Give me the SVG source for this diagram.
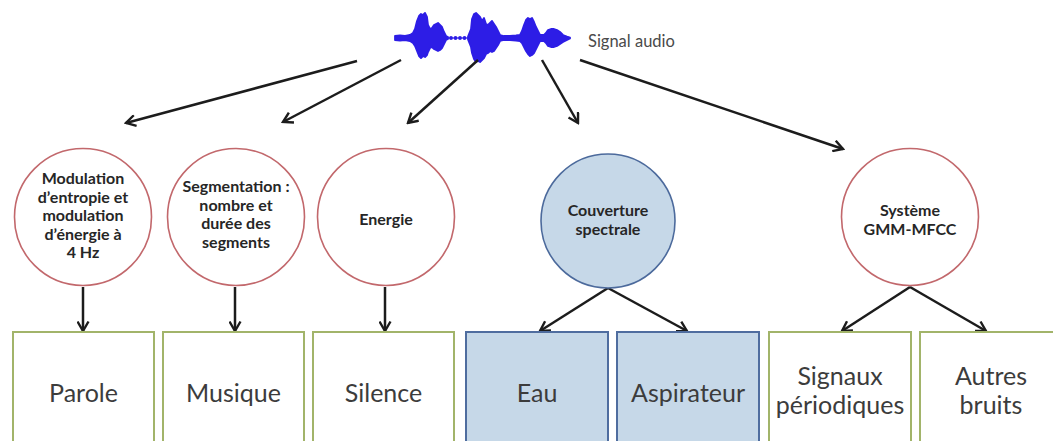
<svg xmlns="http://www.w3.org/2000/svg" width="1053" height="441" viewBox="0 0 1053 441">
  <defs>
    <style>
      .circ { fill: #ffffff; stroke: #c2686c; stroke-width: 1.6; }
      .circb { fill: #c6d8e8; stroke: #4c6a9c; stroke-width: 1.6; }
      .box { fill: #ffffff; stroke: #a2b46a; stroke-width: 2; }
      .boxb { fill: #c6d8e8; stroke: #4f6d9f; stroke-width: 2; }
      .ct { font-family: Lato, "Liberation Sans", sans-serif; font-weight: bold; font-size: 16px; fill: #262626; text-anchor: middle; }
      .bt { font-family: Lato, "Liberation Sans", sans-serif; font-size: 25px; fill: #3c3c3c; text-anchor: middle; }
      .lbl { font-family: Lato, "Liberation Sans", sans-serif; font-size: 16.5px; fill: #4a4a4a; }
      .conn { fill: none; stroke: #1c1c1c; stroke-width: 2.5; }
      .wave { fill: #2d1de6; stroke: #2d1de6; stroke-width: 1.8; stroke-linejoin: round; }
    </style>
    <marker id="arr" viewBox="0 0 13 13" refX="11" refY="6.5" markerWidth="13" markerHeight="13" markerUnits="userSpaceOnUse" orient="auto">
      <path d="M1.5,1 L11,6.5 L1.5,12" fill="none" stroke="#1c1c1c" stroke-width="2.4"/>
    </marker>
  </defs>

  <g id="signal">
    <path class="wave" d="M395,36 L400,35.5 L405,36 L410,35 L413,33 L415,29 L417,21 L419,16 L421,14 L423,15 L425,13 L427,17 L428,25 L430,29 L432,28 L434,25 L436,24 L438,23 L440,25 L442,27 L444,32 L446,36 L448,37 L448,39 L446,40 L444,44 L442,48 L440,50 L438,51 L436,50 L434,49 L432,47 L430,48 L428,52 L427,55 L425,57 L423,56 L421,58 L419,56 L417,51 L415,46 L413,43 L410,41 L405,40 L400,40.5 L395,40 Z"/>
    <path class="wave" d="M468,36.5 L471,29 L472,19 L474,14 L476,13 L478,15 L480,17 L482,21 L484,18 L486,24 L488,25 L490,23 L492,21 L494,24 L496,27 L498,31 L500,35 L504,36 L510,36 L516,35.5 L520,35 L522,31 L524,25 L526,20 L528,18 L530,19 L532,18 L534,22 L536,27 L538,31 L540,35 L544,35 L546,33 L548,30 L551,29 L554,29 L557,30 L560,32 L563,35 L567,36.5 L570,37.5 L570,38.5 L567,40 L563,42 L560,44 L557,46 L554,47 L551,47 L548,46 L546,43 L544,41 L540,41 L538,45 L536,49 L534,53 L532,55 L530,56 L528,54 L526,51 L524,47 L522,43 L520,41 L516,40.5 L510,40 L504,40 L500,41 L498,45 L496,48 L494,51 L492,52 L490,51 L488,53 L486,54 L484,58 L482,60 L480,62 L478,61 L476,62 L474,59 L472,53 L471,47 L468,39.5 Z"/>
    <line x1="448" y1="38" x2="468" y2="38" stroke="#2d1de6" stroke-width="1.2"/>
    <circle cx="451" cy="38" r="1.9" fill="#2d1de6"/>
    <circle cx="455.5" cy="38" r="1.9" fill="#2d1de6"/>
    <circle cx="460" cy="38" r="1.9" fill="#2d1de6"/>
    <circle cx="464.5" cy="38" r="1.9" fill="#2d1de6"/>
    <text class="lbl" x="588" y="47">Signal audio</text>
  </g>

  <g id="connectors">
    <line class="conn" x1="357" y1="61" x2="126" y2="123" marker-end="url(#arr)"/>
    <line class="conn" x1="401" y1="60" x2="283" y2="122" marker-end="url(#arr)"/>
    <line class="conn" x1="478" y1="60" x2="408" y2="123" marker-end="url(#arr)"/>
    <line class="conn" x1="542" y1="60" x2="578" y2="123" marker-end="url(#arr)"/>
    <line class="conn" x1="580" y1="60" x2="843" y2="149" marker-end="url(#arr)"/>
    <line class="conn" x1="83" y1="287" x2="83" y2="331" marker-end="url(#arr)"/>
    <line class="conn" x1="235" y1="287" x2="235" y2="331" marker-end="url(#arr)"/>
    <line class="conn" x1="385" y1="287" x2="385" y2="331" marker-end="url(#arr)"/>
    <line class="conn" x1="608" y1="288" x2="540" y2="331" marker-end="url(#arr)"/>
    <line class="conn" x1="608" y1="288" x2="687" y2="331" marker-end="url(#arr)"/>
    <line class="conn" x1="910" y1="287" x2="842" y2="331" marker-end="url(#arr)"/>
    <line class="conn" x1="910" y1="287" x2="986" y2="331" marker-end="url(#arr)"/>
  </g>

  <g id="c-modulation">
    <circle class="circ" cx="83" cy="217" r="68.5"/>
    <text class="ct" x="83" y="184">Modulation</text>
    <text class="ct" x="83" y="202.5">d’entropie et</text>
    <text class="ct" x="83" y="221">modulation</text>
    <text class="ct" x="83" y="239.5">d’énergie à</text>
    <text class="ct" x="83" y="258">4 Hz</text>
  </g>
  <g id="c-segmentation">
    <circle class="circ" cx="236" cy="217" r="68.5"/>
    <text class="ct" x="236" y="192">Segmentation :</text>
    <text class="ct" x="236" y="210.5">nombre et</text>
    <text class="ct" x="236" y="229">durée des</text>
    <text class="ct" x="236" y="247.5">segments</text>
  </g>
  <g id="c-energie">
    <circle class="circ" cx="386" cy="217" r="68.5"/>
    <text class="ct" x="386" y="225">Energie</text>
  </g>
  <g id="c-couverture">
    <circle class="circb" cx="608" cy="221" r="67"/>
    <text class="ct" x="608" y="216">Couverture</text>
    <text class="ct" x="608" y="235">spectrale</text>
  </g>
  <g id="c-gmm">
    <circle class="circ" cx="910" cy="217" r="68.5"/>
    <text class="ct" x="910" y="216">Système</text>
    <text class="ct" x="910" y="235">GMM-MFCC</text>
  </g>

  <g id="b-parole">
    <rect class="box" x="13" y="332" width="141" height="120"/>
    <text class="bt" x="83.5" y="402">Parole</text>
  </g>
  <g id="b-musique">
    <rect class="box" x="163" y="332" width="141" height="120"/>
    <text class="bt" x="233.5" y="402">Musique</text>
  </g>
  <g id="b-silence">
    <rect class="box" x="313" y="332" width="141" height="120"/>
    <text class="bt" x="383.5" y="402">Silence</text>
  </g>
  <g id="b-eau">
    <rect class="boxb" x="466" y="332" width="142" height="120"/>
    <text class="bt" x="537" y="402">Eau</text>
  </g>
  <g id="b-aspirateur">
    <rect class="boxb" x="617" y="332" width="142" height="120"/>
    <text class="bt" x="688" y="402">Aspirateur</text>
  </g>
  <g id="b-signaux">
    <rect class="box" x="769" y="332" width="142" height="120"/>
    <text class="bt" x="840" y="385">Signaux</text>
    <text class="bt" x="840" y="414">périodiques</text>
  </g>
  <g id="b-autres">
    <rect class="box" x="920" y="332" width="142" height="120"/>
    <text class="bt" x="991" y="385">Autres</text>
    <text class="bt" x="991" y="414">bruits</text>
  </g>
</svg>
